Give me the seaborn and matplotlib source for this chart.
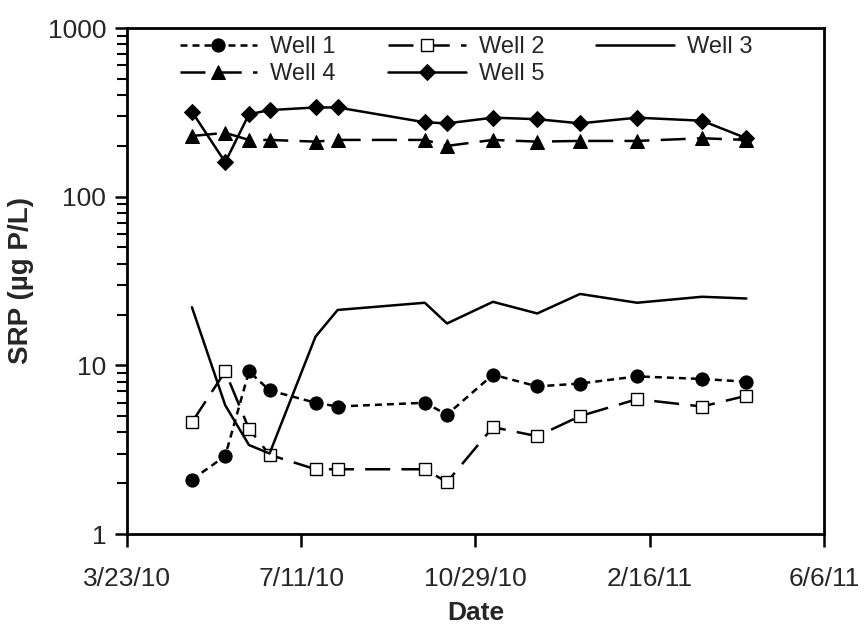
import numpy as np
import pandas as pd
import matplotlib
matplotlib.use("Agg")
import matplotlib.pyplot as plt
import matplotlib.ticker as mticker
import seaborn as sns

# ---------------- data ----------------
dates = pd.to_datetime([
    "2010-05-03", "2010-05-24", "2010-06-08", "2010-06-21", "2010-07-20",
    "2010-08-03", "2010-09-27", "2010-10-11", "2010-11-09", "2010-12-07",
    "2011-01-03", "2011-02-08", "2011-03-21", "2011-04-18",
])
well1 = [2.1, 2.9, 9.2, 7.1, 6.0, 5.7, 6.0, 5.1, 8.8, 7.5, 7.8, 8.6, 8.3, 8.0]
well2 = [4.6, 9.2, 4.2, 2.95, 2.42, 2.42, 2.42, 2.03, 4.3, 3.8, 5.0, 6.3, 5.7, 6.6]
well3 = [22.1, 5.8, 3.37, 3.0, 14.8, 21.3, 23.5, 17.7, 23.8, 20.3, 26.5, 23.5, 25.5, 24.9]
well4 = [229, 239, 217, 217, 212, 217, 217, 200, 217, 212, 214, 214, 222, 217]
well5 = [319, 160, 308, 326, 338, 338, 276, 272, 294, 288, 272, 294, 282, 222]
labels = ["Well 1", "Well 2", "Well 3", "Well 4", "Well 5"]
x_ticks = ["2010-03-23", "2010-07-11", "2010-10-29", "2011-02-16", "2011-06-06"]
x_tick_labels = ["3/23/10", "7/11/10", "10/29/10", "2/16/11", "6/6/11"]
y_ticks = [1, 10, 100, 1000]
y_tick_labels = ["1", "10", "100", "1000"]

# ---------------- style ----------------
sns.set_style("white")
plt.rcParams["font.family"] = ["Liberation Sans", "DejaVu Sans"]

fig = plt.figure(figsize=(8.66, 6.24), dpi=100)
ax = fig.add_axes([127 / 866, 1 - 534 / 624, (824 - 127) / 866, (534 - 28) / 624])

lw = 1.8
styles = [
    dict(marker="o", markersize=9.5, markerfacecolor="black", markeredgecolor="black",
         linestyle=(0, (2.8, 2.0))),
    dict(marker="s", markersize=8.5, markerfacecolor="white", markeredgecolor="black",
         markeredgewidth=1.0, linestyle=(0, (10, 4.5))),
    dict(marker=None, linestyle="-"),
    dict(marker="^", markersize=10, markerfacecolor="black", markeredgecolor="black",
         linestyle=(0, (10, 4.5))),
    dict(marker="D", markersize=8, markerfacecolor="black", markeredgecolor="black",
         linestyle="-"),
]
series = [well1, well2, well3, well4, well5]
for vals, lab, st in zip(series, labels, styles):
    df = pd.DataFrame({"Date": dates, "SRP": vals})
    kw = dict(st)
    if kw.get("marker") is None:
        kw.pop("marker")
    sns.lineplot(data=df, x="Date", y="SRP", ax=ax, color="black", linewidth=lw,
                 label=lab, errorbar=None, **kw)

ax.set_yscale("log")
ax.set_ylim(1, 1000)
ax.set_yticks(y_ticks)
ax.set_yticklabels(y_tick_labels)
ax.yaxis.set_minor_locator(mticker.LogLocator(base=10, subs=np.arange(2, 10)))
ax.yaxis.set_minor_formatter(mticker.NullFormatter())

xt = pd.to_datetime(x_ticks)
ax.set_xlim(xt[0], xt[-1])
ax.set_xticks(xt)
ax.set_xticklabels(x_tick_labels)

for s in ax.spines.values():
    s.set_linewidth(2.0)
    s.set_color("black")
ax.tick_params(axis="both", which="major", direction="out", length=9, width=1.8,
               labelsize=19, color="black", bottom=True, left=True, pad=6)
ax.tick_params(axis="x", which="major", pad=15)
ax.tick_params(axis="y", which="minor", direction="out", length=7, width=1.5,
               color="black", left=True)

ax.set_xlabel("Date", fontsize=19, fontweight="bold", labelpad=7)
ax.set_ylabel("SRP (µg P/L)", fontsize=20, fontweight="bold", labelpad=10)

handles, labs = ax.get_legend_handles_labels()
order = [0, 3, 1, 4, 2]
leg = ax.legend([handles[i] for i in order], [labs[i] for i in order], ncol=3,
                loc="upper left", bbox_to_anchor=(0.055, 1.012), frameon=False,
                fontsize=17, handlelength=3.3, columnspacing=2.2,
                handletextpad=0.55, labelspacing=0.2, borderaxespad=0.2)

fig.savefig("out.png", dpi=100)
